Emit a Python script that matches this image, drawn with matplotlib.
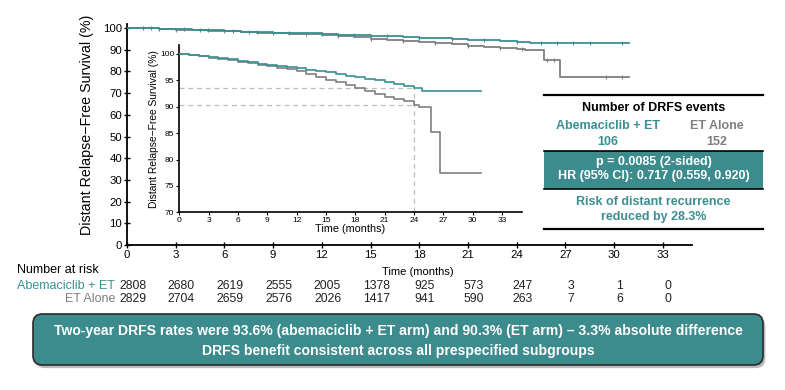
import numpy as np
import matplotlib
matplotlib.use("Agg")
import matplotlib.pyplot as plt
import matplotlib.transforms as mtransforms
from matplotlib.patches import FancyBboxPatch

plt.rcParams['font.family'] = ['Liberation Sans', 'DejaVu Sans']

TEAL = '#3a8f93'
GREY = '#7f7f7f'
BOX = '#3c8b8d'

# Kaplan-Meier estimates (months, % DRFS)
abema_t = [0, 1, 2, 3, 4, 5, 6, 7, 8, 9, 10, 11, 12, 13, 14, 15, 16, 17, 18,
           19, 20, 21, 22, 23, 24, 24.8, 30.9]
abema_s = [100, 99.8, 99.6, 99.4, 99.2, 99.0, 98.7, 98.4, 98.1, 97.9, 97.7,
           97.5, 97.3, 97.0, 96.8, 96.5, 96.2, 95.9, 95.6, 95.3, 95.0, 94.7,
           94.3, 94.0, 93.6, 93.0, 93.0]
et_t = [0, 1, 2, 3, 4, 5, 6, 7, 8, 9, 10, 11, 12, 13, 14, 15, 16, 17, 18,
        19, 20, 21, 22, 23, 24, 24.5, 25.7, 26.7, 30.9]
et_s = [100, 99.8, 99.6, 99.3, 99.0, 98.8, 98.5, 98.2, 97.9, 97.7, 97.4,
        97.1, 96.8, 96.3, 95.7, 95.0, 94.6, 94.2, 93.6, 93.0, 92.5, 91.9,
        91.4, 91.0, 90.3, 89.9, 85.2, 77.4, 77.4]

# censoring marks (months)
abema_cens = [1, 2, 3.5, 5, 6.5, 8, 10, 12, 14, 16, 18, 20, 22, 24, 25.5,
              26.5, 27.5, 28.5, 30.5]
et_cens = [1.5, 3, 4.5, 6, 7.5, 9, 11, 13, 15, 17, 19, 21, 23, 24.3, 25.9,
           26.3, 29.5, 30.5]

two_year = [93.6, 90.3]

risk_times = [0, 3, 6, 9, 12, 15, 18, 21, 24, 27, 30, 33]
abema_risk = [2808, 2680, 2619, 2555, 2005, 1378, 925, 573, 247, 3, 1, 0]
et_risk = [2829, 2704, 2659, 2576, 2026, 1417, 941, 590, 263, 7, 6, 0]

main_yticks = list(range(0, 101, 10))
inset_yticks = [70, 75, 80, 85, 90, 95, 100]
xticks = list(range(0, 34, 3))


def surv_at(t, times, surv):
    idx = np.searchsorted(times, t, side='right') - 1
    return np.asarray(surv)[idx]


fig = plt.figure(figsize=(7.85, 3.9), dpi=100)
fy = lambda p: 1 - p / 390

# ---- main KM plot
ax = fig.add_axes([0.1618, 0.3718, 0.7197, 0.5674])
ax.step(abema_t, abema_s, where='post', color=TEAL, lw=1.3, zorder=3)
ax.step(et_t, et_s, where='post', color=GREY, lw=1.3, zorder=2)
ax.plot(abema_cens, surv_at(abema_cens, abema_t, abema_s), ls='none',
        marker='|', ms=3, mew=0.8, color=TEAL, zorder=3)
ax.plot(et_cens, surv_at(et_cens, et_t, et_s), ls='none',
        marker='|', ms=3, mew=0.8, color=GREY, zorder=2)
ax.set_xlim(0, 34.8)
ax.set_ylim(0, 102)
ax.set_xticks(xticks)
ax.set_yticks(main_yticks)
ax.spines[['top', 'right']].set_visible(False)
ax.spines[['left', 'bottom']].set_linewidth(1.3)
ax.tick_params(direction='inout', length=5, width=1, labelsize=8.2, pad=1)
ax.set_ylabel('Distant Relapse\u2212Free Survival (%)', fontsize=10.3)
ax.yaxis.set_label_coords(-0.058, 0.543)
ax.set_xlabel('Time (months)', fontsize=8, labelpad=2)
ax.xaxis.set_label_coords(0.515, -0.1)

# ---- inset zoom
axi = fig.add_axes([0.2284, 0.4556, 0.436, 0.429])
axi.patch.set_alpha(0)
axi.step(abema_t, abema_s, where='post', color=TEAL, lw=1.2, zorder=3)
axi.step(et_t, et_s, where='post', color=GREY, lw=1.2, zorder=2)
for v in two_year:
    axi.plot([0, 24], [v, v], ls=(0, (4, 3)), color='#bdbdbd', lw=0.9, zorder=1)
axi.plot([24, 24], [70, two_year[0]], ls=(0, (4, 3)), color='#bdbdbd', lw=0.9,
         zorder=1)
axi.set_xlim(0, 35)
axi.set_ylim(70, 101.7)
axi.set_xticks(xticks)
axi.set_yticks(inset_yticks)
axi.spines[['top', 'right']].set_visible(False)
axi.spines[['left', 'bottom']].set_linewidth(1.2)
axi.tick_params(direction='out', length=2.5, width=0.8, labelsize=6, pad=1)
axi.set_ylabel('Distant Relapse\u2212Free Survival (%)', fontsize=7.4, labelpad=1)
axi.set_xlabel('Time (months)', fontsize=7.8, labelpad=0)

# ---- number at risk
tr = mtransforms.blended_transform_factory(ax.transData, fig.transFigure)
fig.text(17 / 785, fy(270), 'Number at risk', fontsize=9, va='center')
fig.text(115 / 785, fy(286), 'Abemaciclib + ET', fontsize=9, va='center',
         ha='right', color=TEAL)
fig.text(115 / 785, fy(299), 'ET Alone', fontsize=9, va='center',
         ha='right', color=GREY)
for t, a, e in zip(risk_times, abema_risk, et_risk):
    ax.text(t + 0.35, fy(286), str(a), transform=tr, fontsize=8.8, ha='center',
            va='center', color='#222222')
    ax.text(t + 0.35, fy(299), str(e), transform=tr, fontsize=8.8, ha='center',
            va='center', color='#222222')

# ---- DRFS events table
x0, x1 = 544 / 785, 763 / 785
xc = (x0 + x1) / 2
for yy in (95, 229):
    fig.add_artist(plt.Line2D([x0, x1], [fy(yy), fy(yy)], color='black', lw=1.6))
fig.add_artist(plt.Rectangle((x0, fy(189)), x1 - x0, fy(151) - fy(189),
                             facecolor=BOX, edgecolor='none'))
for yy in (151, 189):
    fig.add_artist(plt.Line2D([x0, x1], [fy(yy), fy(yy)], color='black', lw=1.2))
fig.text(xc, fy(108), 'Number of DRFS events', fontsize=9, weight='bold',
         ha='center', va='center', color='black')
fig.text(608 / 785, fy(126), 'Abemaciclib + ET', fontsize=9, weight='bold',
         ha='center', va='center', color=TEAL)
fig.text(717 / 785, fy(126), 'ET Alone', fontsize=9, weight='bold',
         ha='center', va='center', color=GREY)
fig.text(608 / 785, fy(142), '106', fontsize=9, weight='bold',
         ha='center', va='center', color=TEAL)
fig.text(717 / 785, fy(142), '152', fontsize=9, weight='bold',
         ha='center', va='center', color=GREY)
fig.text(xc, fy(162), 'p = 0.0085 (2-sided)', fontsize=9, weight='bold',
         ha='center', va='center', color='white')
fig.text(xc, fy(176), 'HR (95% CI): 0.717 (0.559, 0.920)', fontsize=9,
         weight='bold', ha='center', va='center', color='white')
fig.text(xc, fy(202), 'Risk of distant recurrence', fontsize=9,
         weight='bold', ha='center', va='center', color=TEAL)
fig.text(xc, fy(217), 'reduced by 28.3%', fontsize=9,
         weight='bold', ha='center', va='center', color=TEAL)

# ---- bottom summary box
bx0, bx1, by0, by1 = 33 / 785, 763 / 785, fy(365), fy(314)
shadow = FancyBboxPatch((bx0 + 0.003, by0 - 0.008), bx1 - bx0, by1 - by0,
                        boxstyle='round,pad=0,rounding_size=0.012',
                        transform=fig.transFigure, facecolor='#bbbbbb',
                        edgecolor='none', mutation_aspect=2)
fig.add_artist(shadow)
box = FancyBboxPatch((bx0, by0), bx1 - bx0, by1 - by0,
                     boxstyle='round,pad=0,rounding_size=0.012',
                     transform=fig.transFigure, facecolor=BOX,
                     edgecolor='#2b2b2b', lw=1.2, mutation_aspect=2)
fig.add_artist(box)
fig.text(0.5 * (bx0 + bx1), fy(331),
         'Two-year DRFS rates were 93.6% (abemaciclib + ET arm) and 90.3% '
         '(ET arm) \u2013 3.3% absolute difference',
         fontsize=10.1, weight='bold', ha='center', va='center', color='white')
fig.text(0.5 * (bx0 + bx1), fy(351),
         'DRFS benefit consistent across all prespecified subgroups',
         fontsize=10.1, weight='bold', ha='center', va='center', color='white')

fig.savefig('out.png', dpi=100)
